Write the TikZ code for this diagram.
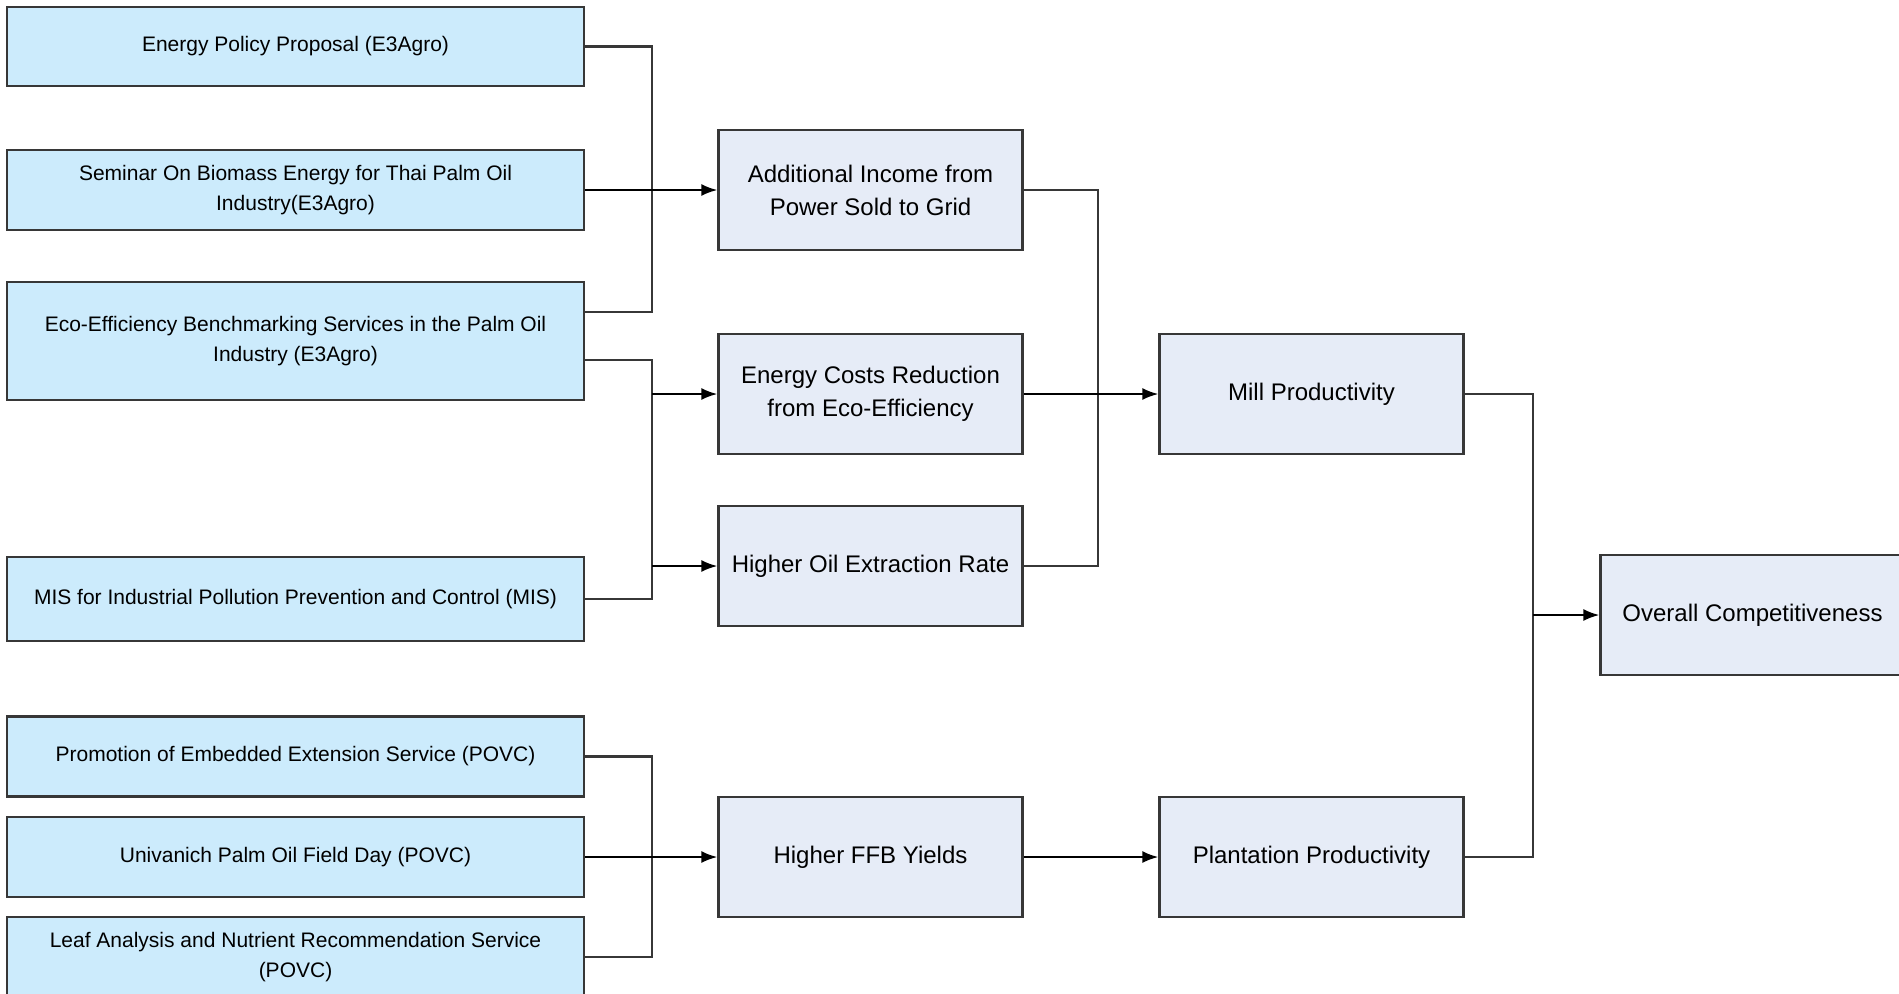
\documentclass[tikz,border=0pt]{standalone}
\usepackage{fontspec}
\setmainfont{Liberation Sans}
\usetikzlibrary{arrows.meta}
\definecolor{leftblue}{RGB}{204,235,252}
\definecolor{midblue}{RGB}{230,236,247}
\definecolor{edgegray}{RGB}{55,55,55}
\tikzset{every picture/.style={line width=1.1pt}}

\begin{document}
\begin{tikzpicture}[x=0.5pt,y=-0.5pt,
  srcbox/.style={draw=edgegray,fill=leftblue,minimum width=288.5pt,minimum height=40pt,inner sep=0pt,align=center,font=\fontsize{10.5}{15}\selectfont},
  outbox/.style={draw=edgegray,fill=midblue,minimum width=152pt,minimum height=60pt,inner sep=0pt,align=center,font=\fontsize{12}{16.5}\selectfont},
  conn/.style={draw=edgegray},
  arr/.style={-{Latex[length=8pt,width=6pt]},draw=black}]
\useasboundingbox (0,0) rectangle (1899,993); %frame
% programmes
\node[srcbox,minimum height=39.5pt] (policy) at (295.5,46.5) {Energy Policy Proposal (E3Agro)};
\node[srcbox] (seminar) at (295.5,190) {Seminar On Biomass Energy for Thai Palm Oil\\Industry(E3Agro)};
\node[srcbox,minimum height=59pt] (ecoeff) at (295.5,341) {Eco-Efficiency Benchmarking Services in the Palm Oil\\Industry (E3Agro)};
\node[srcbox,minimum height=42pt] (mis) at (295.5,599) {MIS for Industrial Pollution Prevention and Control (MIS)};
\node[srcbox] (promo) at (295.5,756.5) {Promotion of Embedded Extension Service (POVC)};
\node[srcbox] (fieldday) at (295.5,857) {Univanich Palm Oil Field Day (POVC)};
\node[srcbox] (leaf) at (295.5,957) {Leaf Analysis and Nutrient Recommendation Service\\(POVC)};
% outcomes
\node[outbox] (income) at (870.5,190) {Additional Income from\\Power Sold to Grid};
\node[outbox] (ecost) at (870.5,394) {Energy Costs Reduction\\from Eco-Efficiency};
\node[outbox] (oer) at (870.5,566) {Higher Oil Extraction Rate};
\node[outbox] (ffb) at (870.5,857) {Higher FFB Yields};
\node[outbox] (mill) at (1311.5,394) {Mill Productivity};
\node[outbox] (plant) at (1311.5,857) {Plantation Productivity};
\node[outbox] (overall) at (1752.5,615) {Overall Competitiveness};
% buses
\coordinate (busL) at (652,0);
\coordinate (busM) at (1098,0);
\coordinate (busR) at (1533,0);
\path (ecoeff.east) ++(0,-29) coordinate (eco1) ++(0,48) coordinate (eco2);
\draw[conn] (policy.east) -| (busL |- eco1) -- (eco1);
\draw[arr] (seminar.east) -- (income.west);
\draw[conn] (eco2) -| (busL |- mis.east) -- (mis.east);
\draw[arr] (busL |- ecost.west) -- (ecost.west);
\draw[arr] (busL |- oer.west) -- (oer.west);
\draw[conn] (promo.east) -| (busL |- leaf.east) -- (leaf.east);
\draw[arr] (fieldday.east) -- (ffb.west);
\draw[conn] (income.east) -| (busM |- oer.east) -- (oer.east);
\draw[arr] (ecost.east) -- (mill.west);
\draw[arr] (ffb.east) -- (plant.west);
\draw[conn] (mill.east) -| (busR |- plant.east) -- (plant.east);
\draw[arr] (busR |- overall.west) -- (overall.west);
\end{tikzpicture}
\end{document}
